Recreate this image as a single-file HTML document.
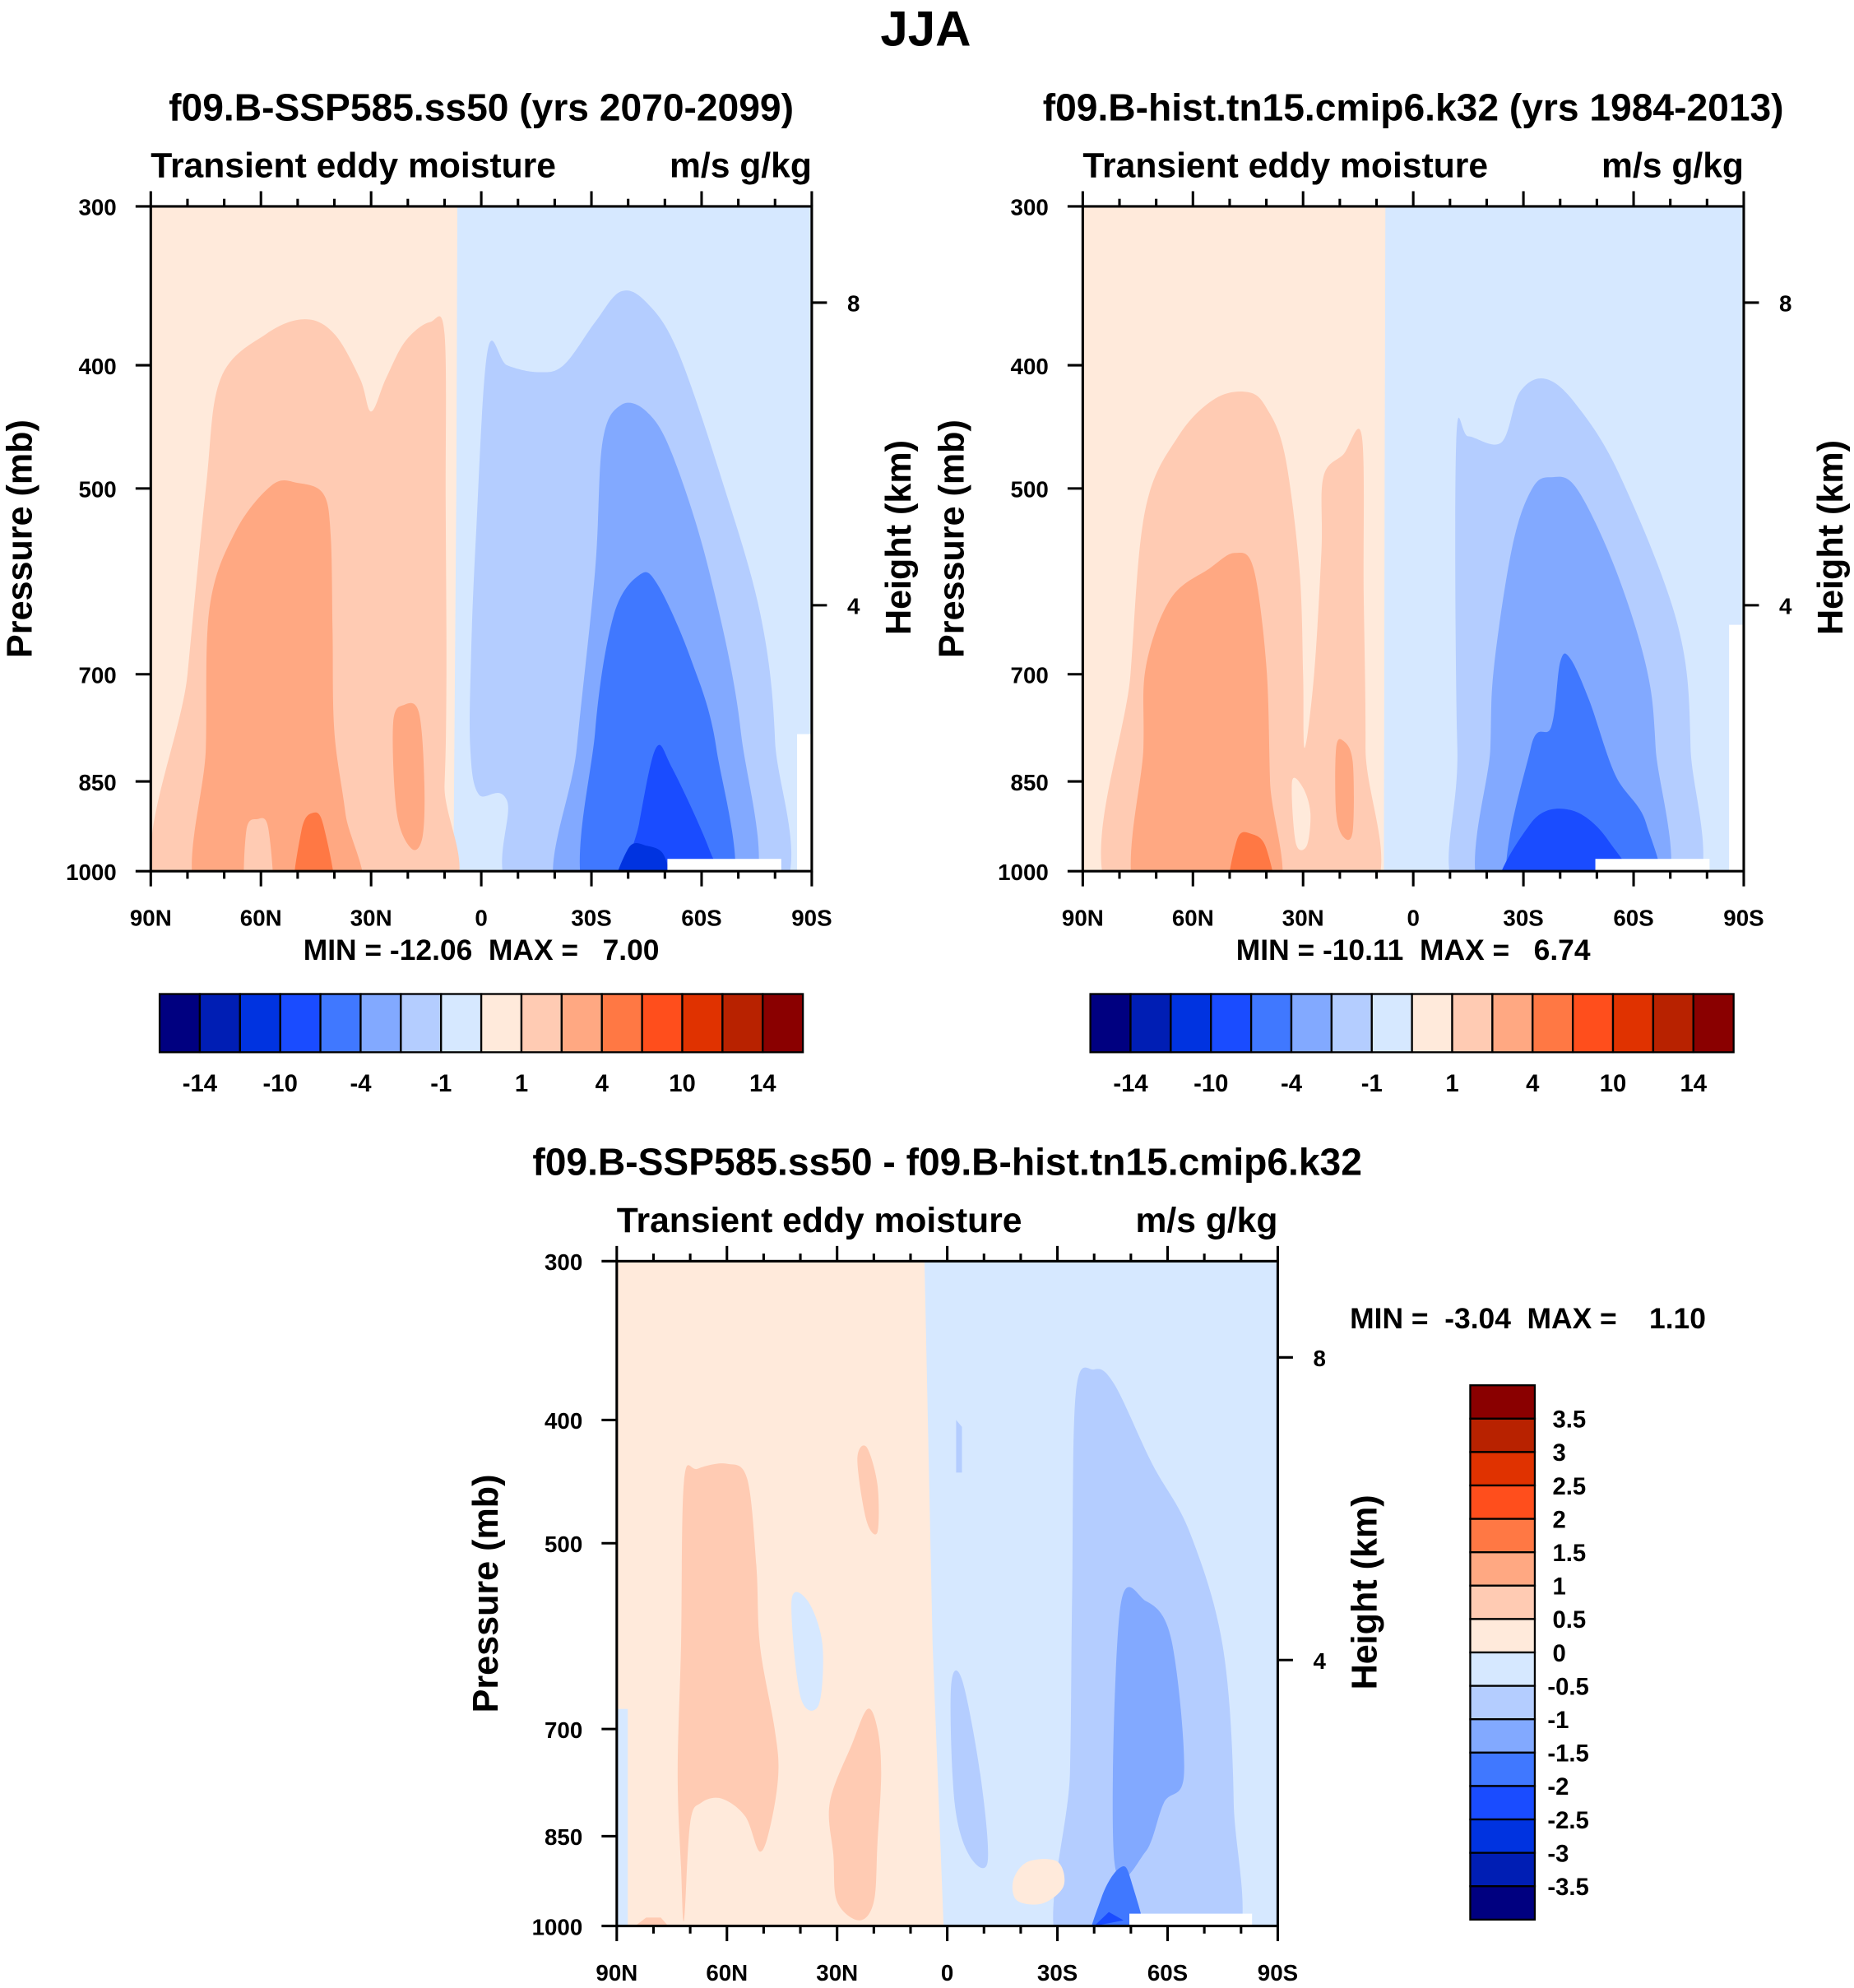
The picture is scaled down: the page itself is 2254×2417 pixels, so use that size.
<!DOCTYPE html>
<html><head><meta charset="utf-8"><style>
html,body{margin:0;padding:0;background:#fff;}
svg{display:block;font-family:"Liberation Sans",Arial,sans-serif;font-weight:bold;}
.pre{white-space:pre;}
</style></head>
<body>
<svg id="chart" width="2254" height="2417" viewBox="0 0 1464 1570" xmlns="http://www.w3.org/2000/svg">
<text x="731" y="36" font-size="39" text-anchor="middle">JJA</text>
</svg>
<script>
const COLORS=["#000080","#001eb4","#0033e0","#1a4cff","#4078ff","#82a9ff","#b4cdff","#d6e8ff","#ffeadb","#ffcbb3","#ffa882","#ff7844","#ff4e1c","#e03200","#b82200","#8a0000"];
const pressureTicks=[300,400,500,700,850,1000];
const latTicks=[90,60,30,0,-30,-60,-90];
const latLabels=["90N","60N","30N","0","30S","60S","90S"];
const heightTicks=[8,4];
const heightOffsets=[76,315];
const cb1Labels=["-14","-10","-4","-1","1","4","10","14"];
const cb3Labels=["3.5","3","2.5","2","1.5","1","0.5","0","-0.5","-1","-1.5","-2","-2.5","-3","-3.5"];

// contour regions: [colorIndex, [[lat, pressure], ...]]
const p1Regions=[
[7,[[90,300],[-90,300],[-90,1000],[90,1000]]],
[8,[[90,300],[6.5,300],[6.8,500],[7.6,1000],[90,1000]]],
[9,[[86,1000],[80,700],[75,500],[71,410],[58.6,378],[48,368],[40,378],[33,410],[30,435],[26,410],[20.7,383],[14,370],[10,378],[9.7,514],[9.5,700],[10,855],[12,1000]]],
[10,[[76,1000],[75,800],[74,621],[67,541],[57,497],[50,495],[43,505],[41,545],[40.5,650],[40,777],[37,900],[34.5,1000]]],
[10,[[24,765],[21,740],[17,750],[15.5,850],[16,940],[19,960],[23,900]]],
[9,[[64,1000],[64,930],[61,910],[58,925],[57,1000]]],
[11,[[50.7,1000],[49,930],[46,900],[43,920],[40,1000]]],
[6,[[2.8,680],[1.5,550],[-1.7,390],[-7,400],[-15.5,405],[-22.4,400],[-31,370],[-38,350],[-45,357],[-53.5,390],[-65.6,493],[-76,628],[-80,790],[-79,1000],[-12,1000],[-7,880],[0.7,870],[3,800]]],
[5,[[-22.4,1000],[-26,800],[-31,580],[-33,460],[-38,430],[-45,435],[-52,470],[-62,580],[-70.7,777],[-72,1000]]],
[4,[[-29.3,1000],[-31,777],[-36,630],[-43,585],[-48,595],[-57,680],[-64,800],[-67,1000]]],
[3,[[-39.6,1000],[-43,917],[-47.6,800],[-52,830],[-62,960],[-65.6,1000]]],
[2,[[-36,1000],[-40,960],[-45,955],[-50,975],[-51,1000]]],
[-1,[[-50.7,978],[-81.7,978],[-81.7,1000],[-50.7,1000]]],
[-1,[[-86,780],[-90,780],[-90,1000],[-86,1000]]]
];
const p2Regions=[
[7,[[90,300],[-90,300],[-90,1000],[90,1000]]],
[8,[[90,300],[7.6,300],[7.8,500],[8,1000],[90,1000]]],
[9,[[81,1000],[77,700],[73,520],[64,455],[54,425],[45,420],[40,432],[35,470],[31,579],[30,700],[29.6,800],[27,700],[25,560],[24.5,490],[19,470],[14,455],[13.5,600],[13,800],[14,1000]]],
[10,[[74.5,1000],[73.5,800],[72.8,690],[66,610],[55.5,578],[48.6,562],[43.5,578],[40,690],[39,850],[38,1000]]],
[10,[[21,800],[19,790],[16.5,820],[16.5,930],[19,940],[21,900]]],
[8,[[33,850],[30,860],[28,900],[29,955],[32,950]]],
[11,[[50,1000],[48,945],[44,935],[40,960],[38,1000]]],
[6,[[-15,1000],[-12,800],[-11.7,460],[-15,455],[-24,460],[-29,420],[-36,410],[-44.5,430],[-56.5,490],[-72,640],[-75.5,800],[-74,1000]]],
[5,[[-20,1000],[-21,800],[-22,690],[-27,555],[-32.4,500],[-37.6,490],[-44.5,500],[-55,578],[-63.4,690],[-66,800],[-67,1000]]],
[4,[[-27,1000],[-32,800],[-37.6,770],[-40,685],[-42.7,680],[-48,735],[-55,840],[-63.4,917],[-65,1000]]],
[3,[[-23.8,1000],[-32,917],[-42.7,895],[-53,945],[-60,1000]]],
[-1,[[-49.6,978],[-80.7,978],[-80.7,1000],[-49.6,1000]]],
[-1,[[-86,640],[-90,640],[-90,1000],[-86,1000]]]
];
const p3Regions=[
[7,[[90,300],[-90,300],[-90,1000],[90,1000]]],
[8,[[90,300],[6.2,300],[4,600],[1,1000],[90,1000]]],
[7,[[90,675],[87,675],[87,1000],[90,1000]]],
[9,[[71.7,990],[72.5,900],[73.4,758],[72.5,600],[71.7,447],[68,437],[60,433],[54.5,445],[52,520],[51,602],[47,700],[46,758],[48,830],[51,874],[55,820],[61.4,794],[67,800],[70,830]]],
[9,[[30,957],[31,880],[32,800],[26,720],[21.7,675],[19,700],[18,758],[19,860],[20,957],[24,990]]],
[9,[[24.5,430],[22,420],[19,450],[19,490],[22,480]]],
[9,[[85,1000],[82,985],[78,985],[76,1000]]],
[7,[[42.4,555],[38,555],[34,600],[35,670],[40,660]]],
[6,[[-31.7,1000],[-33.4,758],[-34,550],[-35,381],[-40,365],[-45.5,375],[-55.8,433],[-66,490],[-75,602],[-78,800],[-76.5,1000]]],
[6,[[-1,650],[-4,640],[-9,760],[-11,890],[-6,880],[-2,800]]],
[6,[[-2.4,400],[-4,405],[-4,440],[-2.4,440]]],
[5,[[-45.5,890],[-47,565],[-54,555],[-61,595],[-64.5,758],[-59,800],[-54,874]]],
[4,[[-38.6,1000],[-42,950],[-47,900],[-50,920],[-54,1000]]],
[3,[[-40,1000],[-44,975],[-48,990]]],
[8,[[-18,920],[-22,890],[-30,890],[-31.7,930],[-26,960],[-19,955]]],
[-1,[[-49.6,978],[-83,978],[-83,1000],[-49.6,1000]]]
];

const NS="http://www.w3.org/2000/svg";
const svg=document.getElementById('chart');
function mk(tag,attrs,parent){const e=document.createElementNS(NS,tag);for(const k in attrs)e.setAttribute(k,attrs[k]);(parent||svg).appendChild(e);return e;}
function txt(x,y,s,size,anchor,parent){const t=mk('text',{x:x,y:y,'font-size':size,'text-anchor':anchor||'middle'},parent);t.textContent=s;return t;}
function smoothPath(P){
  const n=P.length;let d='M'+P[0][0].toFixed(1)+','+P[0][1].toFixed(1);
  for(let i=0;i<n;i++){
    const p0=P[(i-1+n)%n],p1=P[i],p2=P[(i+1)%n],p3=P[(i+2)%n];
    const c1=[p1[0]+(p2[0]-p0[0])/6,p1[1]+(p2[1]-p0[1])/6];
    const c2=[p2[0]-(p3[0]-p1[0])/6,p2[1]-(p3[1]-p1[1])/6];
    d+=' C'+c1[0].toFixed(1)+','+c1[1].toFixed(1)+' '+c2[0].toFixed(1)+','+c2[1].toFixed(1)+' '+p2[0].toFixed(1)+','+p2[1].toFixed(1);
  }
  return d+'Z';
}

function panel(id,x0,y0,regions,title,mm){
  const W=522,H=525;
  const X=lat=>x0+(90-lat)/180*W;
  const Y=p=>y0+Math.log(p/300)/Math.log(1000/300)*H;
  const g=mk('g',{});
  
  
  const cp=mk('clipPath',{id:id+'-clip'},g);
  mk('rect',{x:x0,y:y0,width:W,height:H},cp);
  const pg=mk('g',{'clip-path':'url(#'+id+'-clip)'},g);
  
  
  regions.forEach((r,i)=>{
    let el;
    const fill=r[0]<0?'#ffffff':COLORS[r[0]];
    if(r[1].length>4 && i>1){
      // points on the bottom boundary are pushed below the clip so smoothing doesn't lift them
      const P=r[1].map(q=>[X(q[0]),q[1]>=1000?Y(q[1])+25:Y(q[1])]);
      el=mk('path',{d:smoothPath(P),fill:fill},pg);
    } else {
      const P=r[1].map(q=>[X(q[0]),Y(q[1])]);
      el=mk('polygon',{points:P.map(q=>q[0].toFixed(1)+','+q[1].toFixed(1)).join(' '),fill:fill},pg);
    }
    
    
  });
  const fr=mk('rect',{x:x0,y:y0,width:W,height:H,fill:'none',stroke:'#000','stroke-width':2},g);
  
  
  pressureTicks.forEach(p=>{
    mk('line',{x1:x0-12,x2:x0,y1:Y(p),y2:Y(p),stroke:'#000','stroke-width':2},g);
    const t=txt(x0-27,Y(p)+7,String(p),18,'end',g);
    
    
  });
  for(let lat=90;lat>=-90;lat-=10){
    const major=lat%30===0;
    mk('line',{x1:X(lat),x2:X(lat),y1:y0+H,y2:y0+H+(major?12:6),stroke:'#000','stroke-width':2},g);
    mk('line',{x1:X(lat),x2:X(lat),y1:y0,y2:y0-(major?12:6),stroke:'#000','stroke-width':2},g);
  }
  latTicks.forEach((lat,i)=>{
    const t=txt(X(lat),y0+H+43,latLabels[i],18,'middle',g);
    
    
  });
  heightTicks.forEach((h,i)=>{
    const yy=y0+heightOffsets[i];
    mk('line',{x1:x0+W,x2:x0+W+12,y1:yy,y2:yy,stroke:'#000','stroke-width':2},g);
    const t=txt(x0+W+28,yy+7,String(h),18,'start',g);
    
    
  });
  let t=txt(x0+W/2,y0-68,title,30,'middle',g);
  
  
  t=txt(x0,y0-23,'Transient eddy moisture',27.7,'start',g);
  
  
  t=txt(x0+W,y0-23,'m/s g/kg',27.7,'end',g);
  
  
  t=txt(0,0,'Pressure (mb)',28,'middle',g);
  t.setAttribute('transform','translate('+(x0-94)+','+(y0+H/2)+') rotate(-90)');
  
  
  t=txt(0,0,'Height (km)',28,'middle',g);
  t.setAttribute('transform','translate('+(x0+W+78)+','+(y0+H/2-1)+') rotate(-90)');
  
  
  if(mm){
    t=txt(mm[0],mm[1],mm[2],23,mm[3]||'middle',g);
    t.setAttribute('class','pre');
    
    
  }
}
panel('panel-ssp585',119,163,p1Regions,'f09.B-SSP585.ss50 (yrs 2070-2099)',[380,758,'MIN = -12.06  MAX =   7.00']);
panel('panel-hist',855,163,p2Regions,'f09.B-hist.tn15.cmip6.k32 (yrs 1984-2013)',[1116,758,'MIN = -10.11  MAX =   6.74']);
panel('panel-diff',487,996,p3Regions,'f09.B-SSP585.ss50 - f09.B-hist.tn15.cmip6.k32',[1066,1049,'MIN =  -3.04  MAX =    1.10','start']);

function hbar(name,x0,y0){
  const g=mk('g',{});
  
  
  const bw=508/16;
  COLORS.forEach((c,i)=>{
    const r=mk('rect',{x:x0+i*bw,y:y0,width:bw,height:46,fill:c,stroke:'#000','stroke-width':1.5},g);
    
    
  });
  cb1Labels.forEach((s,i)=>{
    const t=txt(x0+(1+2*i)*bw,y0+77,s,19,'middle',g);
    
    
  });
}
hbar('colorbar-ssp585',126,785);
hbar('colorbar-hist',861,785);
(function(){
  const g=mk('g',{});
  
  
  const x0=1161,y0=1094,bh=422/16;
  for(let i=0;i<16;i++){
    const r=mk('rect',{x:x0,y:y0+i*bh,width:51,height:bh,fill:COLORS[15-i],stroke:'#000','stroke-width':1.5},g);
    
    
  }
  cb3Labels.forEach((s,i)=>{
    const t=txt(s.startsWith('-')?1222:1226,y0+(i+1)*bh+7,s,19,'start',g);
    
    
  });
})();
</script>
</body></html>
